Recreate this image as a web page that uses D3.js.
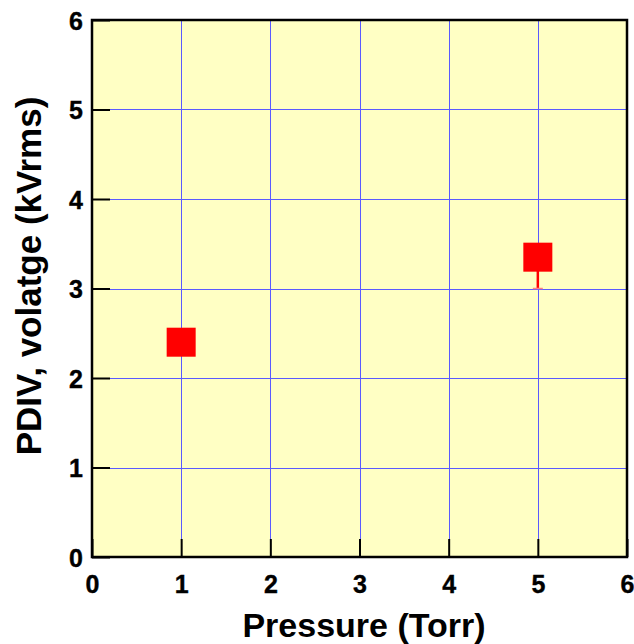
<!DOCTYPE html>
<html>
<head>
<meta charset="utf-8">
<script src="https://cdn.jsdelivr.net/npm/d3@7/dist/d3.min.js"></script>
<style>
  body { margin: 0; background: #fff; }
  text { font-family: "Liberation Sans", Arial, sans-serif; font-weight: bold; fill: #000; }
</style>
</head>
<body>
<div id="chart"></div>
<script>
var pressure = [1, 5];
var pdiv = [2.40, 3.35];
var errLow = [0.0, 0.35];
var errHigh = [0.0, 0.1];
var xTicks = [0, 1, 2, 3, 4, 5, 6];
var yTicks = [0, 1, 2, 3, 4, 5, 6];

var margin = {top: 20, right: 7, bottom: 87, left: 92},
	width = 634 - margin.left - margin.right,
	height = 644 - margin.top - margin.bottom;

var svg = d3.select("#chart").append("svg")
	.attr("width", 634)
	.attr("height", 644)
  .append("g")
	.attr("transform", "translate(" + margin.left + "," + margin.top + ")");

var x = d3.scaleLinear().domain([0, 6]).range([0, width]);
var y = d3.scaleLinear().domain([0, 6]).range([height, 0]);

svg.append("rect")
	.attr("width", width)
	.attr("height", height)
	.attr("fill", "#ffffc4");

// grid
svg.selectAll(".vgrid")
	.data(xTicks.slice(1, -1))
  .enter().append("line")
	.attr("x1", function(d) { return Math.round(x(d)) + 0.5; })
	.attr("x2", function(d) { return Math.round(x(d)) + 0.5; })
	.attr("y1", 0).attr("y2", height)
	.attr("stroke", "#5a5aff").attr("stroke-width", 1);
svg.selectAll(".hgrid")
	.data(yTicks.slice(1, -1))
  .enter().append("line")
	.attr("y1", function(d) { return Math.round(y(d)) + 0.5; })
	.attr("y2", function(d) { return Math.round(y(d)) + 0.5; })
	.attr("x1", 0).attr("x2", width)
	.attr("stroke", "#5a5aff").attr("stroke-width", 1);

// axes with inward ticks
var fmt = d3.format("d");
var xAxis = svg.append("g")
	.attr("transform", "translate(0," + height + ")")
	.call(d3.axisBottom(x).tickValues(xTicks).tickFormat(fmt).tickSizeInner(-18).tickSizeOuter(0));
var yAxis = svg.append("g")
	.call(d3.axisLeft(y).tickValues(yTicks).tickFormat(fmt).tickSizeInner(-18).tickSizeOuter(0));

[xAxis, yAxis].forEach(function(a) {
	a.select(".domain").remove();
	a.selectAll("line").attr("stroke", "#000").attr("stroke-width", 2);
	a.selectAll("text")
		.attr("font-size", "25px")
		.attr("font-family", "Liberation Sans, Arial, sans-serif")
		.attr("font-weight", "bold")
		.attr("stroke", "#000").attr("stroke-width", 0.4);
});
xAxis.selectAll("text").attr("dy", null).attr("y", 36);
yAxis.selectAll("text").attr("x", -9).attr("dy", "0.36em");

// frame
svg.append("rect")
	.attr("width", width)
	.attr("height", height)
	.attr("fill", "none")
	.attr("stroke", "#000")
	.attr("stroke-width", 2.5);

// error bars
pressure.forEach(function(p, i) {
	if (errLow[i] > 0 || errHigh[i] > 0) {
		svg.append("line")
			.attr("x1", x(p)).attr("x2", x(p))
			.attr("y1", y(pdiv[i] + errHigh[i]))
			.attr("y2", y(pdiv[i] - errLow[i]))
			.attr("stroke", "#ff0000").attr("stroke-width", 2.5);
		svg.append("line")
			.attr("x1", x(p) - 5).attr("x2", x(p) + 5)
			.attr("y1", y(pdiv[i] - errLow[i]))
			.attr("y2", y(pdiv[i] - errLow[i]))
			.attr("stroke", "#ff8080").attr("stroke-width", 1.5);
	}
});

// markers
svg.selectAll(".pt")
	.data(pressure)
  .enter().append("rect")
	.attr("x", function(d) { return x(d) - 14.5; })
	.attr("y", function(d, i) { return y(pdiv[i]) - 14.5; })
	.attr("width", 29)
	.attr("height", 29)
	.attr("fill", "#ff0000");

// titles
svg.append("text")
	.attr("x", 364 - margin.left)
	.attr("y", 637 - margin.top)
	.attr("text-anchor", "middle")
	.attr("font-size", "34px")
	.text("Pressure (Torr)");
svg.append("text")
	.attr("transform", "translate(" + (41 - margin.left) + "," + (276 - margin.top) + ") rotate(-90)")
	.attr("text-anchor", "middle")
	.attr("font-size", "35px")
	.text("PDIV, volatge (kVrms)");
</script>
</body>
</html>
